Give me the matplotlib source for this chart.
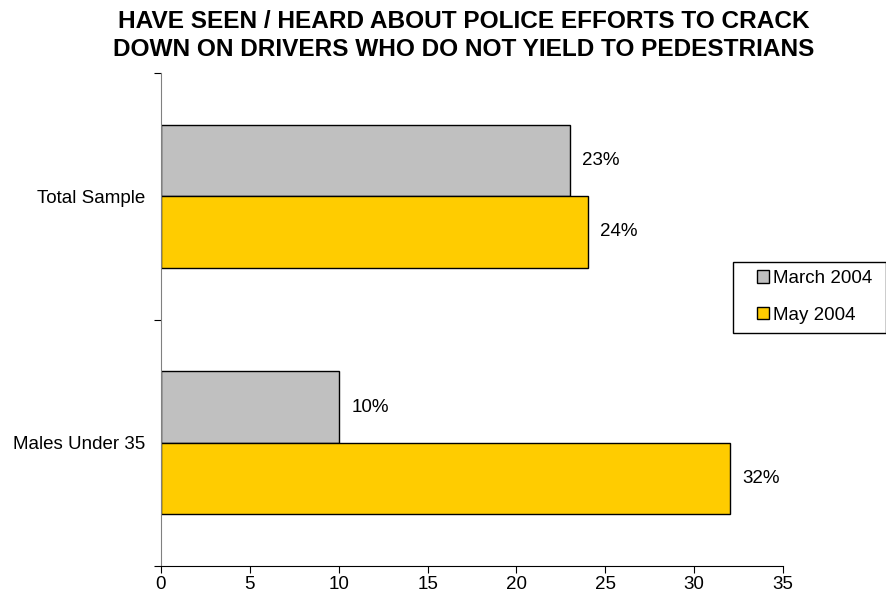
import matplotlib
matplotlib.use("Agg")
import matplotlib.pyplot as plt
from matplotlib.patches import Patch, Rectangle

plt.rcParams['font.family'] = ['Liberation Sans', 'DejaVu Sans']

categories = ["Total Sample", "Males Under 35"]
march_2004 = [23, 10]
may_2004 = [24, 32]
series_names = ["March 2004", "May 2004"]
x_ticks = [0, 5, 10, 15, 20, 25, 30, 35]

W, H = 887, 604
fig = plt.figure(figsize=(W / 100, H / 100), dpi=100)
ax = fig.add_axes([161 / W, 1 - 566 / H, (783 - 161) / W, (566 - 73) / H])

# categories top to bottom
ypos = [1, 0]
bh = 0.29
grey = "#C0C0C0"
gold = "#FFCC00"
fs = 13.5

b1 = ax.barh([y + bh / 2 for y in ypos], march_2004, height=bh,
             color=grey, edgecolor="black", linewidth=1)
b2 = ax.barh([y - bh / 2 for y in ypos], may_2004, height=bh,
             color=gold, edgecolor="black", linewidth=1)

for bars, vals in [(b1, march_2004), (b2, may_2004)]:
    for rect, v in zip(bars, vals):
        ax.annotate(f"{v}%", (rect.get_width(), rect.get_y() + rect.get_height() / 2),
                    xytext=(9, 0), textcoords="offset points",
                    ha="left", va="center", fontsize=fs)

ax.set_xlim(0, 35)
ax.set_ylim(-0.5, 1.5)
ax.set_xticks(x_ticks)
ax.set_xticklabels([str(t) for t in x_ticks], fontsize=fs)
ax.set_yticks([-0.5, 0.5, 1.5])
ax.set_yticklabels([])
ax.set_yticks(ypos, minor=True)
ax.set_yticklabels(categories, minor=True, fontsize=fs)
ax.tick_params(axis="y", which="minor", length=0, pad=11)
ax.tick_params(axis="y", which="major", length=5, direction="out")
ax.tick_params(axis="x", length=5, direction="out", pad=2.5)

for s in ["top", "right"]:
    ax.spines[s].set_visible(False)
ax.spines["left"].set_color("#808080")
ax.spines["bottom"].set_color("black")

fig.text(463.5 / W, 1 - 28 / H, "HAVE SEEN / HEARD ABOUT POLICE EFFORTS TO CRACK",
         ha="center", va="baseline", fontsize=17.6, fontweight="bold")
fig.text(463.5 / W, 1 - 56 / H, "DOWN ON DRIVERS WHO DO NOT YIELD TO PEDESTRIANS",
         ha="center", va="baseline", fontsize=17.6, fontweight="bold")

# legend box
fig.patches.append(Rectangle((733 / W, 1 - 333 / H), (886 - 733) / W, (333 - 262) / H,
                             transform=fig.transFigure, facecolor="white",
                             edgecolor="black", linewidth=1))
handles = [Patch(facecolor=grey, edgecolor="black"), Patch(facecolor=gold, edgecolor="black")]
leg = fig.legend(handles, series_names, loc="center left",
                 bbox_to_anchor=(757 / W, 1 - 297 / H), fontsize=fs,
                 frameon=False, handlelength=0.64, handleheight=0.64,
                 handletextpad=0.2, borderpad=0, labelspacing=1.05, borderaxespad=0)

fig.savefig("out.png", dpi=100)
